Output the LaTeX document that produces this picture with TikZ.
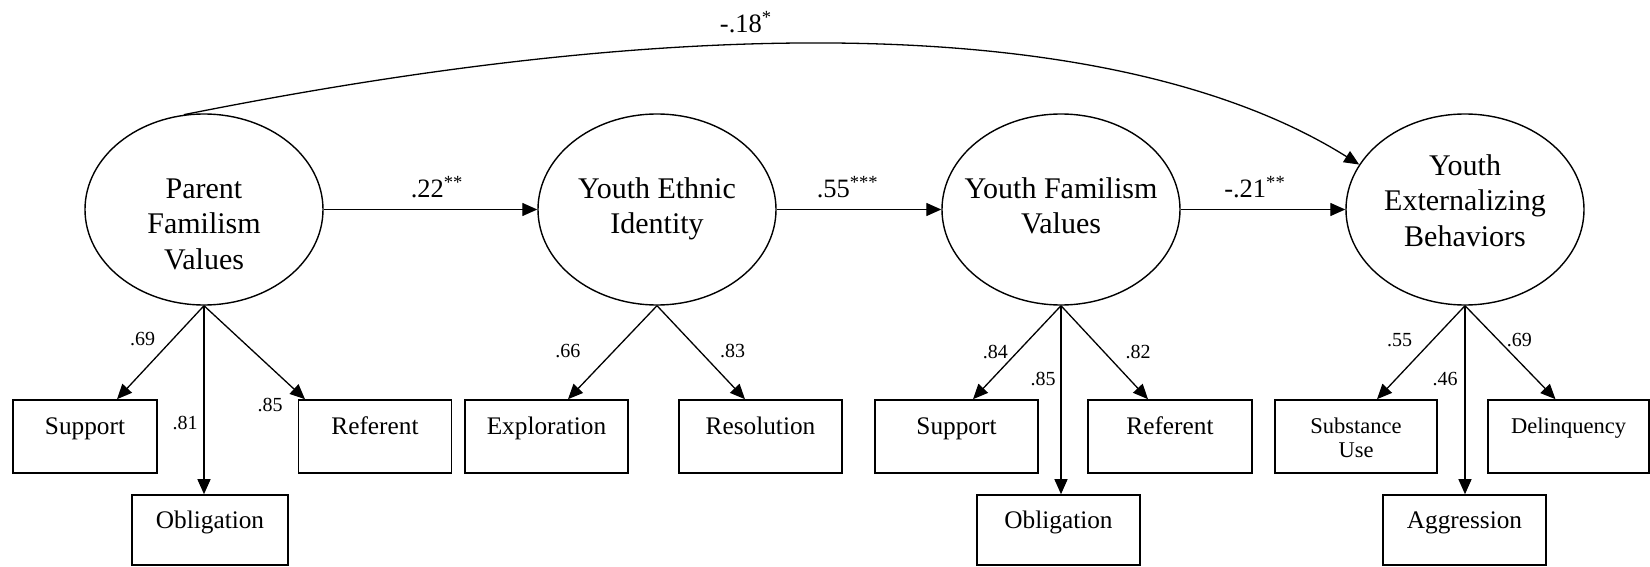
\documentclass[tikz,border=0pt]{standalone}
\usepackage{fontspec}
\setmainfont{Liberation Serif}
\usetikzlibrary{arrows.meta,shapes.geometric}
\newcommand{\lvtext}[2]{\raisebox{#1}{\makebox[0pt]{\begin{tabular}[t]{@{}c@{}}#2\end{tabular}}}}
\newcommand{\twoline}[1]{\begin{tabular}[t]{@{}c@{}}#1\end{tabular}}
\begin{document}
\begin{tikzpicture}[x=1pt,y=-1pt,
  latent/.style={ellipse, draw, line width=1.4pt, minimum width=238pt, minimum height=191pt, inner sep=0pt, text height=0pt, text depth=0pt, font=\fontsize{30}{35.5}\selectfont},
  obs/.style={rectangle, draw, line width=1.6pt, inner sep=0pt, minimum height=73pt, text height=34pt, text depth=39pt, font=\fontsize{25.3}{30}\selectfont},
  obsb/.style={obs, minimum height=70pt, text height=33pt, text depth=37pt},
  obss/.style={obs, text height=33pt, text depth=40pt, font=\fontsize{22.5}{24}\selectfont},
  arr/.style={line width=1.3pt, -{Triangle[length=15pt,width=13pt]}},
  coef/.style={font=\fontsize{26.5}{30}\selectfont, anchor=base, inner sep=0pt},
  ldg/.style={font=\fontsize{20}{24}\selectfont, inner sep=0pt},
]
\useasboundingbox (0,0) rectangle (1650,567);

% latent variables
\node[latent] (E1) at (204,209.5) {\lvtext{11.5pt}{Parent\\Familism\\Values}};
\node[latent] (E2) at (657,209.5) {\lvtext{11.5pt}{Youth Ethnic\\Identity}};
\node[latent] (E3) at (1061,209.5) {\lvtext{11.5pt}{Youth Familism\\Values}};
\node[latent] (E4) at (1465,209.5) {\lvtext{34.5pt}{Youth\\Externalizing\\Behaviors}};

% indicators
\node[obs, minimum width=144pt] (S1) at (85,436.5) {Support};
\node[obsb, minimum width=156pt] (O1) at (210,530) {Obligation};
\node[obs, minimum width=153pt] (R1) at (375,436.5) {Referent};
\node[obs, minimum width=163pt] (X2) at (546.5,436.5) {Exploration};
\node[obs, minimum width=163pt] (V2) at (760.5,436.5) {Resolution};
\node[obs, minimum width=163pt] (S3) at (956.5,436.5) {Support};
\node[obsb, minimum width=163pt] (O3) at (1058.5,530) {Obligation};
\node[obs, minimum width=164pt] (R3) at (1170,436.5) {Referent};
\node[obss, minimum width=162pt] (U4) at (1356,436.5) {\twoline{Substance\\Use}};
\node[obsb, minimum width=163pt] (A4) at (1464.5,530) {Aggression};
\node[obss, minimum width=161pt] (D4) at (1568.5,436.5) {Delinquency};

% structural paths
\draw[arr] (E1.east) -- node[coef, pos=.53, yshift=12pt] {.22\textsuperscript{**}} (E2.west);
\draw[arr] (E2.east) -- node[coef, pos=.43, yshift=12pt] {.55\textsuperscript{***}} (E3.west);
\draw[arr] (E3.east) -- node[coef, pos=.45, yshift=12pt] {-.21\textsuperscript{**}} (E4.west);
\draw[arr] (E1.102) .. controls (883,-25) and (1204,67) .. node[coef, pos=.32, yshift=12pt] {-.18\textsuperscript{*}} (E4.157);

% loadings
\draw[arr] (E1.south) -- node[ldg, pos=.36, xshift=-30pt] {.69} ([xshift=32pt]S1.north);
\draw[arr] (E1.south) -- node[ldg, pos=.62, xshift=-19pt] {.81} (E1.south |- O1.north);
\draw[arr] (E1.south) -- node[ldg, pos=1, xshift=-35pt, yshift=-6pt] {.85} ([xshift=-70pt]R1.north);

\draw[arr] (E2.south) -- node[ldg, pos=.484, xshift=-46pt] {.66} ([xshift=21.5pt]X2.north);
\draw[arr] (E2.south) -- node[ldg, pos=.484, xshift=33pt] {.83} ([xshift=-15.5pt]V2.north);

\draw[arr] (E3.south) -- node[ldg, pos=.495, xshift=-22pt] {.84} ([xshift=16.5pt]S3.north);
\draw[arr] (E3.south) -- node[ldg, pos=.39, xshift=-18pt] {.85} (E3.south |- O3.north);
\draw[arr] (E3.south) -- node[ldg, pos=.495, xshift=34pt] {.82} ([xshift=-22pt]R3.north);

\draw[arr] (E4.south) -- node[ldg, pos=.368, xshift=-33pt] {.55} ([xshift=21pt]U4.north);
\draw[arr] (E4.south) -- node[ldg, pos=.39, xshift=-20pt] {.46} (E4.south |- A4.north);
\draw[arr] (E4.south) -- node[ldg, pos=.368, xshift=21pt] {.69} ([xshift=-13pt]D4.north);
\end{tikzpicture}
\end{document}
